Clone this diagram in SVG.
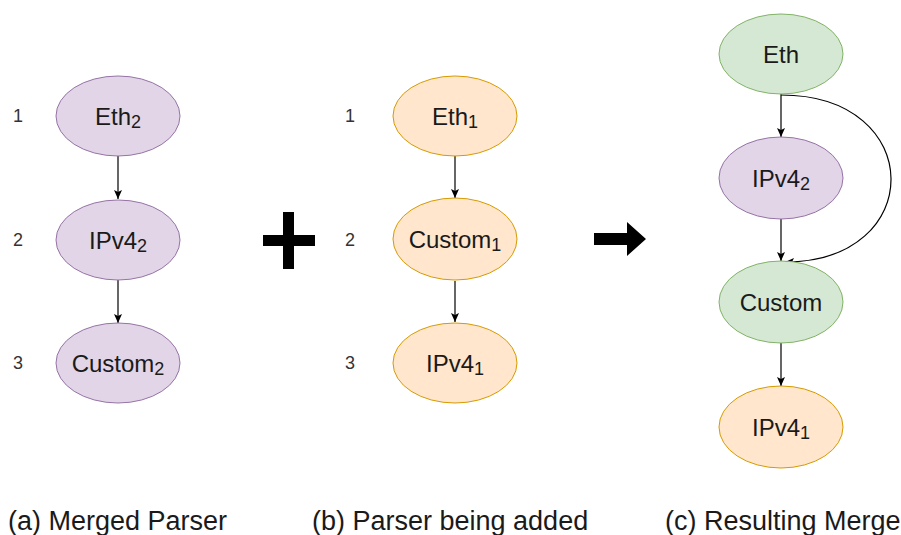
<svg xmlns="http://www.w3.org/2000/svg" width="901" height="535" viewBox="0 0 901 535">
  <style>
    .lbl { font-family: "Liberation Sans", Arial, sans-serif; font-size: 24px; fill: #1a1a1a; text-anchor: middle; dominant-baseline: central; }
    .sub { font-size: 18px; }
    .num { font-family: "Liberation Sans", Arial, sans-serif; font-size: 18px; fill: #333; text-anchor: middle; dominant-baseline: central; }
    .cap { font-family: "Liberation Sans", Arial, sans-serif; font-size: 27px; fill: #1a1a1a; }
    .purple { fill: #e1d5e7; stroke: #9673a6; stroke-width: 1; }
    .orange { fill: #ffe6cc; stroke: #d79b00; stroke-width: 1; }
    .green { fill: #d5e8d4; stroke: #82b366; stroke-width: 1; }
    .edge { fill: none; stroke: #000; stroke-width: 1.2; marker-end: url(#arr); }
  </style>
  <defs>
    <marker id="arr" markerUnits="userSpaceOnUse" markerWidth="10" markerHeight="10" viewBox="0 0 10 10" refX="9" refY="5" orient="auto">
      <path d="M0,1 L9,5 L0,9 L2,5 z" fill="#000"/>
    </marker>
  </defs>
  <rect width="901" height="535" fill="#fff"/>

  <!-- row numbers -->
  <g id="row-numbers">
    <text class="num" x="18" y="116">1</text>
    <text class="num" x="18" y="240">2</text>
    <text class="num" x="18" y="363">3</text>
    <text class="num" x="350" y="116">1</text>
    <text class="num" x="350" y="240">2</text>
    <text class="num" x="350" y="363">3</text>
  </g>

  <!-- connectors -->
  <g id="connectors">
    <path class="edge" d="M118 156 V199"/>
    <path class="edge" d="M118 280 V323"/>
    <path class="edge" d="M455 156 V198"/>
    <path class="edge" d="M455 281 V322"/>
    <path class="edge" d="M781 94 V137"/>
    <path class="edge" d="M781 219 V261"/>
    <path class="edge" d="M781 343 V386"/>
    <path class="edge" d="M781 95 C927 95 927 262 785 262"/>
  </g>

  <!-- (a) merged parser -->
  <g id="a-eth2">
    <ellipse class="purple" cx="118" cy="116" rx="62" ry="40"/>
    <text class="lbl" x="118" y="116">Eth<tspan class="sub" dy="6">2</tspan></text>
  </g>
  <g id="a-ipv4-2">
    <ellipse class="purple" cx="118" cy="240" rx="62" ry="40"/>
    <text class="lbl" x="118" y="240">IPv4<tspan class="sub" dy="6">2</tspan></text>
  </g>
  <g id="a-custom2">
    <ellipse class="purple" cx="118" cy="363" rx="62" ry="40"/>
    <text class="lbl" x="118" y="363">Custom<tspan class="sub" dy="6">2</tspan></text>
  </g>

  <!-- plus sign -->
  <g id="plus">
    <rect x="283" y="212" width="11" height="57" fill="#000"/>
    <rect x="263" y="235" width="52" height="11" fill="#000"/>
  </g>

  <!-- (b) parser being added -->
  <g id="b-eth1">
    <ellipse class="orange" cx="455" cy="116" rx="62" ry="40"/>
    <text class="lbl" x="455" y="116">Eth<tspan class="sub" dy="6">1</tspan></text>
  </g>
  <g id="b-custom1">
    <ellipse class="orange" cx="455" cy="239" rx="62" ry="41"/>
    <text class="lbl" x="455" y="239">Custom<tspan class="sub" dy="6">1</tspan></text>
  </g>
  <g id="b-ipv4-1">
    <ellipse class="orange" cx="455" cy="363" rx="62" ry="40"/>
    <text class="lbl" x="455" y="363">IPv4<tspan class="sub" dy="6">1</tspan></text>
  </g>

  <!-- result arrow -->
  <g id="result-arrow">
    <path d="M594 233 H627 V222 L646 239 L627 256 V245 H594 z" fill="#000"/>
  </g>

  <!-- (c) resulting merge -->
  <g id="c-eth">
    <ellipse class="green" cx="781" cy="54" rx="62" ry="40"/>
    <text class="lbl" x="781" y="54">Eth</text>
  </g>
  <g id="c-ipv4-2">
    <ellipse class="purple" cx="781" cy="178" rx="62" ry="41"/>
    <text class="lbl" x="781" y="178">IPv4<tspan class="sub" dy="6">2</tspan></text>
  </g>
  <g id="c-custom">
    <ellipse class="green" cx="781" cy="302" rx="62" ry="41"/>
    <text class="lbl" x="781" y="302">Custom</text>
  </g>
  <g id="c-ipv4-1">
    <ellipse class="orange" cx="781" cy="427" rx="62" ry="41"/>
    <text class="lbl" x="781" y="427">IPv4<tspan class="sub" dy="6">1</tspan></text>
  </g>

  <!-- captions -->
  <g id="captions">
    <text class="cap" x="8" y="530">(a) Merged Parser</text>
    <text class="cap" x="312" y="530">(b) Parser being added</text>
    <text class="cap" x="665" y="530">(c) Resulting Merge</text>
  </g>
</svg>
